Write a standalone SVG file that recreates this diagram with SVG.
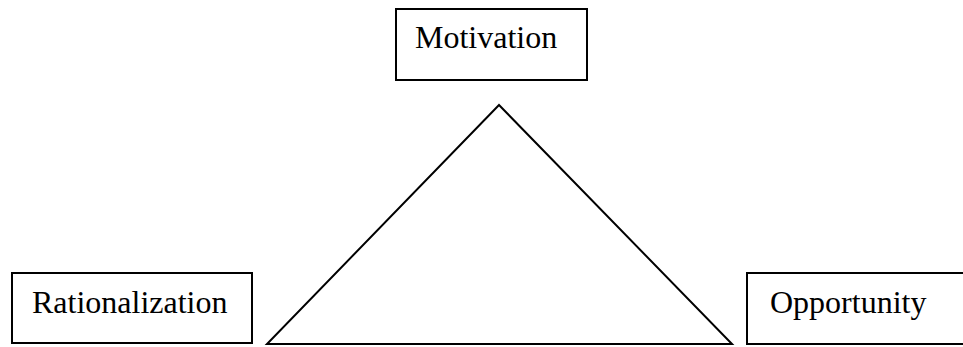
<svg xmlns="http://www.w3.org/2000/svg" width="963" height="347" viewBox="0 0 963 347">
<style>
.box{fill:#fff;stroke:#000;stroke-width:2}
.lbl{font-family:"Liberation Serif","Times New Roman",serif;font-size:32px;fill:#000}
.edge{fill:none;stroke:#000;stroke-width:2}
</style>
<rect width="963" height="347" fill="#fff"/>
<g id="connectors">
<polygon class="edge" points="499,105 267,344 732,344"/>
</g>
<g id="motivation">
<rect class="box" x="396" y="9" width="191" height="71"/>
<text class="lbl" x="415" y="48">Motivation</text>
</g>
<g id="rationalization">
<rect class="box" x="12" y="273" width="240" height="70"/>
<text class="lbl" x="32" y="313">Rationalization</text>
</g>
<g id="opportunity">
<rect class="box" x="747" y="273" width="230" height="71"/>
<text class="lbl" x="770" y="313">Opportunity</text>
</g>
</svg>
